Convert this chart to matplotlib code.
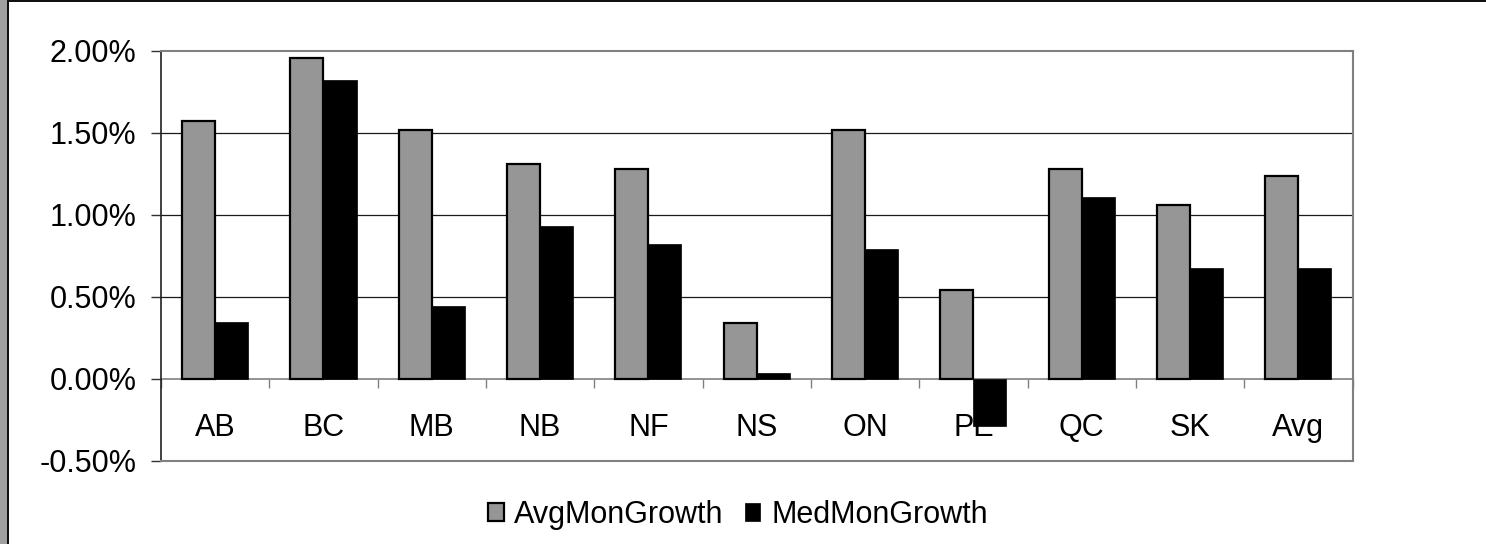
import matplotlib
matplotlib.use("Agg")
import matplotlib.pyplot as plt
from matplotlib.patches import Rectangle
from matplotlib.ticker import FuncFormatter
import numpy as np

plt.rcParams['font.family'] = ['Liberation Sans', 'DejaVu Sans']

# Monthly growth by province (fractions)
provinces = ["AB", "BC", "MB", "NB", "NF", "NS", "ON", "PE", "QC", "SK", "Avg"]
avg_mon_growth = [0.01573, 0.01960, 0.01518, 0.01310, 0.01280, 0.00342,
                  0.01518, 0.00544, 0.01280, 0.01062, 0.01238]
med_mon_growth = [0.00344, 0.01820, 0.00446, 0.00933, 0.00820, 0.00033,
                  0.00790, -0.00288, 0.01108, 0.00676, 0.00676]
series_names = ["AvgMonGrowth", "MedMonGrowth"]
y_ticks = [-0.005, 0.0, 0.005, 0.010, 0.015, 0.020]

FS = 22
W, H = 1486, 544
fig = plt.figure(figsize=(W / 100, H / 100), dpi=100)
fig.patch.set_facecolor("white")

ax = fig.add_axes([161 / W, 1 - 460.7 / H, (1352.5 - 161) / W, (460.7 - 51) / H])

x = np.arange(len(provinces))
bw = 0.305
ax.bar(x - bw / 2, avg_mon_growth, bw, color="#969696", edgecolor="black",
       linewidth=1.6, label=series_names[0], zorder=3)
ax.bar(x + bw / 2, med_mon_growth, bw, color="black", edgecolor="black",
       linewidth=0.5, label=series_names[1], zorder=3)

ax.set_xlim(-0.5, len(provinces) - 0.5)
ax.set_ylim(-0.005, 0.020)

# horizontal gridlines
ax.set_yticks(y_ticks)
ax.yaxis.set_major_formatter(FuncFormatter(lambda v, p: f"{v * 100:.2f}%"))
for v in y_ticks[2:-1]:
    ax.axhline(v, color="#1a1a1a", linewidth=0.9, zorder=1)
ax.axhline(0.0, color="#808080", linewidth=1.2, zorder=2)

ax.tick_params(axis="y", direction="out", length=7.5, width=1, color="#303030",
               labelsize=FS, pad=10)

# category labels and boundary ticks on the zero line
ax.set_xticks([])
sec = ax.secondary_xaxis(0.2)
sec.set_xticks(np.arange(-0.5, len(provinces), 1.0))
sec.set_xticklabels([])
sec.tick_params(direction="out", length=6.5, width=1, color="#808080")
sec.spines["bottom"].set_visible(False)
for i, name in enumerate(provinces):
    ax.text(i, -0.00347, name, ha="center", va="baseline", fontsize=FS, zorder=4)

for side in ["top", "right", "bottom"]:
    ax.spines[side].set_color("#808080")
    ax.spines[side].set_linewidth(1.5)
ax.spines["left"].set_color("#202020")
ax.spines["left"].set_linewidth(1.2)

leg = fig.legend(loc="center", bbox_to_anchor=(738 / W, 1 - 515 / H), ncol=2,
                 frameon=False, fontsize=FS, handlelength=0.5, handleheight=0.5,
                 handletextpad=0.35, columnspacing=0.7, borderpad=0)

# outer frame: grey strip on the left with a dark rule, dark rule on top
fig.patches.append(Rectangle((0, 0), 7 / W, 1, transform=fig.transFigure,
                             facecolor="#a0a0a0", edgecolor="none", zorder=5))
fig.patches.append(Rectangle((7 / W, 0), 1.6 / W, 1, transform=fig.transFigure,
                             facecolor="#111111", edgecolor="none", zorder=5))
fig.patches.append(Rectangle((7 / W, 1 - 2 / H), 1 - 7 / W, 2 / H,
                             transform=fig.transFigure, facecolor="#111111",
                             edgecolor="none", zorder=5))

fig.savefig("out.png", dpi=100, facecolor="white")
